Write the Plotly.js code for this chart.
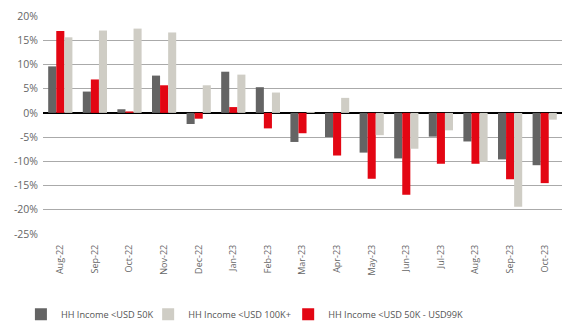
<!DOCTYPE html>
<html>
<head>
<meta charset="utf-8">
<script src="https://cdn.plot.ly/plotly-3.0.1.min.js"></script>
<style>html,body{margin:0;padding:0;background:#fff;}#chart{width:581px;height:330px;}</style>
</head>
<body>
<div id="chart"></div>
<script>
const categories = ["Aug-22","Sep-22","Oct-22","Nov-22","Dec-22","Jan-23","Feb-23","Mar-23","Apr-23","May-23","Jun-23","Jul-23","Aug-23","Sep-23","Oct-23"];
const incomeUnder50K = [9.6, 4.4, 0.75, 7.7, -2.3, 8.5, 5.3, -6.0, -5.0, -8.2, -9.4, -4.9, -5.9, -9.6, -10.8];
const income50Kto99K = [16.9, 6.9, 0.3, 5.7, -1.2, 1.2, -3.2, -4.2, -8.8, -13.6, -16.9, -10.5, -10.5, -13.7, -14.5];
const income100KPlus = [15.6, 17.0, 17.4, 16.6, 5.7, 7.9, 4.2, 0.2, 3.1, -4.6, -7.4, -3.6, -10.1, -19.4, -1.4];
const tickValues = [20, 15, 10, 5, 0, -5, -10, -15, -20, -25];
const tickLabels = ["20%","15%","10%","5%","0%","-5%","-10%","-15%","-20%","-25%"];

const traces = [
  {type:'bar', name:'HH Income <USD 50K', x:categories, y:incomeUnder50K, marker:{color:'#646464'}, legend:'legend'},
  {type:'bar', name:'HH Income <USD 50K - USD99K', x:categories, y:income50Kto99K, marker:{color:'#e30613'}, legend:'legend3'},
  {type:'bar', name:'HH Income <USD 100K+', x:categories, y:income100KPlus, marker:{color:'#cfcdc5'}, legend:'legend2'}
];

const legendBase = {orientation:'h', xref:'container', xanchor:'left', yref:'container', y:0.048, yanchor:'middle',
                    font:{size:9.2, color:'#555'}, bgcolor:'rgba(0,0,0,0)'};

const layout = {
  width:581, height:330,
  margin:{l:43, r:19, t:16, b:96},
  paper_bgcolor:'#fff', plot_bgcolor:'#fff',
  font:{family:'"Open Sans", sans-serif', size:10, color:'#666'},
  barmode:'group', bargap:0.3, bargroupgap:0,
  showlegend:true,
  legend:Object.assign({}, legendBase, {x:0.036}),
  legend2:Object.assign({}, legendBase, {x:0.255}),
  legend3:Object.assign({}, legendBase, {x:0.496}),
  xaxis:{type:'category', tickangle:-90, showgrid:false, showline:false, ticks:'', automargin:false,
         ticklabelstandoff:8, tickfont:{size:9, color:'#666'}},
  yaxis:{range:[-25,20], tickvals:tickValues, ticktext:tickLabels, showgrid:true, gridcolor:'#aaaaaa', gridwidth:1,
         automargin:false, zeroline:true, zerolinecolor:'#000', zerolinewidth:1.5, showline:false, ticks:'',
         ticklabelstandoff:4, tickfont:{size:10.5, color:'#666'}}
};

Plotly.newPlot('chart', traces, layout, {displayModeBar:false, staticPlot:true});
</script>
</body>
</html>
